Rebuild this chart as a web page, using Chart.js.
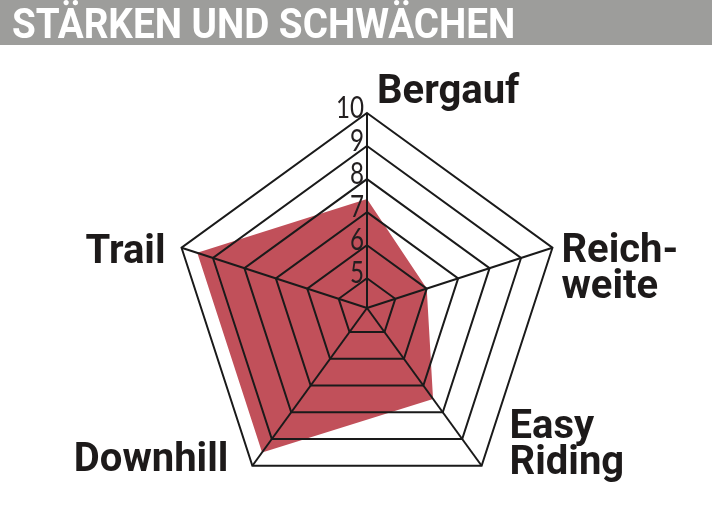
<!DOCTYPE html>
<html>
<head>
<meta charset="utf-8">
<script src="https://cdn.jsdelivr.net/npm/chart.js@4.4.0/dist/chart.umd.min.js"></script>
<style>
  html, body { margin: 0; padding: 0; background: #fff; }
  #wrap { position: relative; width: 712px; height: 514px; overflow: hidden; }
  .bar {
    position: absolute; left: 0; top: 0; width: 712px; height: 45px;
    background: #9d9d9b; z-index: 2;
  }
  .title {
    position: absolute; left: 12px; top: 1px;
    color: #fff; font-family: Roboto, sans-serif; font-weight: bold;
    font-size: 43px; line-height: 45px; white-space: nowrap;
    transform-origin: 0 0;
  }
  canvas { position: absolute; left: 0; top: 0; }
</style>
</head>
<body>
<div id="wrap">
  <div class="bar"><span class="title" id="title">STÄRKEN UND SCHWÄCHEN</span></div>
  <canvas id="radar" width="712" height="514"></canvas>
</div>
<script>
// axis names (multi-line ones as arrays)
const categories = ["Bergauf", ["Reich-", "weite"], ["Easy", "Riding"], "Downhill", "Trail"];
const scores = [7.4, 6.0, 7.5, 9.5, 9.5];
const tickValues = [5, 6, 7, 8, 9, 10];
const scaleMin = 4.1;
const scaleMax = 10;

// squeeze the title to the condensed width of the original
const titleEl = document.getElementById("title");
titleEl.style.transform = "scaleX(" + (503 / titleEl.offsetWidth).toFixed(3) + ")";

// where each axis name sits relative to its outer corner
const labelOffsets = [
  { dx: 10, dy: -10, align: "left" },
  { dx: 9, dy: 14, align: "left" },
  { dx: 28, dy: -28, align: "left" },
  { dx: -24, dy: 5, align: "right" },
  { dx: -16, dy: 15, align: "right" },
];

const labelPlugin = {
  id: "radarText",
  afterDraw(chart) {
    const scale = chart.scales.r;
    const ctx = chart.ctx;
    ctx.save();

    // tick numbers along the top axis, narrow
    ctx.font = "400 31px Lato";
    ctx.fillStyle = "#231f20";
    ctx.textAlign = "right";
    ctx.textBaseline = "alphabetic";
    tickValues.forEach((v) => {
      const p = scale.getPointPositionForValue(0, v);
      ctx.save();
      ctx.translate(p.x - 3, p.y + 5);
      ctx.scale(0.78, 1);
      ctx.fillText(String(v), 0, 0);
      ctx.restore();
    });

    // axis names
    ctx.font = "bold 40px Roboto";
    ctx.fillStyle = "#1d1a1a";
    categories.forEach((lab, i) => {
      const p = scale.getPointPosition(i, scale.drawingArea);
      const o = labelOffsets[i];
      ctx.textAlign = o.align;
      [].concat(lab).forEach((t, k) => {
        ctx.fillText(t, p.x + o.dx, p.y + o.dy + k * 36);
      });
    });
    ctx.restore();
  },
};

new Chart(document.getElementById("radar"), {
  type: "radar",
  data: {
    labels: categories,
    datasets: [
      {
        data: scores,
        backgroundColor: "#c1505a",
        borderWidth: 0,
        pointRadius: 0,
        fill: true,
      },
    ],
  },
  options: {
    responsive: false,
    animation: false,
    layout: { padding: { top: 113, bottom: 11, left: 172, right: 150 } },
    plugins: {
      legend: { display: false },
      tooltip: { enabled: false },
    },
    scales: {
      r: {
        min: scaleMin,
        max: scaleMax,
        afterBuildTicks: (s) => {
          s.ticks = [scaleMin].concat(tickValues).map((v) => ({ value: v }));
        },
        ticks: { display: false, z: 1 },
        pointLabels: { display: false },
        grid: { color: "#1a1a1a", lineWidth: 2, z: 1 },
        angleLines: { color: "#1a1a1a", lineWidth: 2 },
      },
    },
  },
  plugins: [labelPlugin],
});
</script>
</body>
</html>
